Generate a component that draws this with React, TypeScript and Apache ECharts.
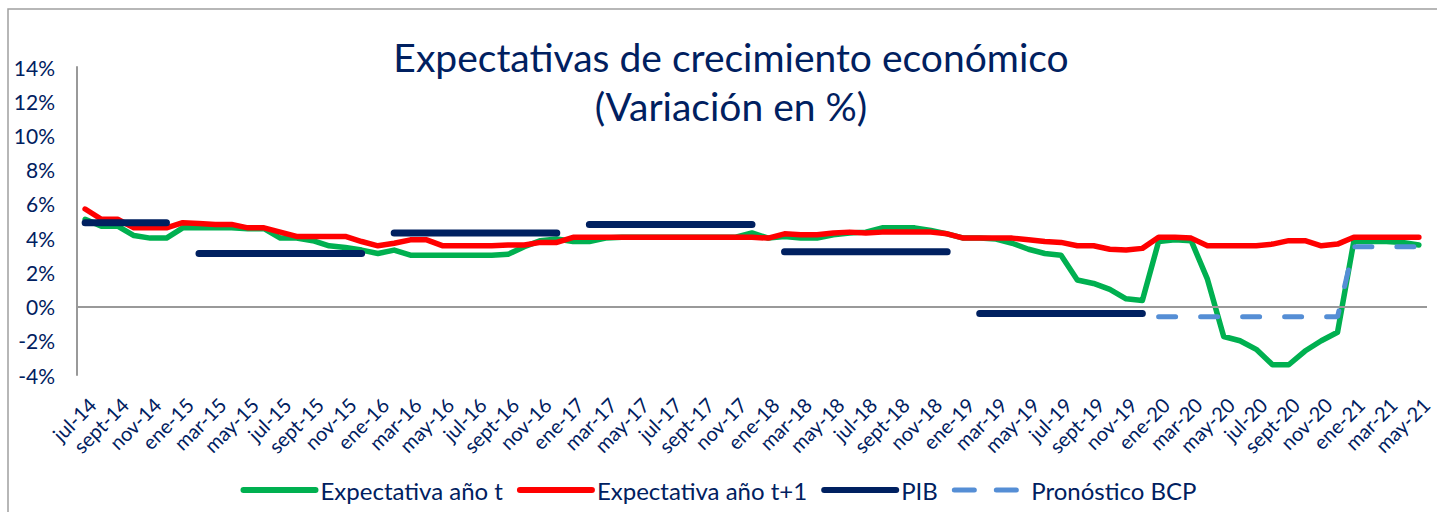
import React, { useEffect, useRef } from "react";
import * as echarts from "echarts";

const categories = [
  "jul-14","ago-14","sept-14","oct-14","nov-14","dic-14",
  "ene-15","feb-15","mar-15","abr-15","may-15","jun-15","jul-15","ago-15","sept-15","oct-15","nov-15","dic-15",
  "ene-16","feb-16","mar-16","abr-16","may-16","jun-16","jul-16","ago-16","sept-16","oct-16","nov-16","dic-16",
  "ene-17","feb-17","mar-17","abr-17","may-17","jun-17","jul-17","ago-17","sept-17","oct-17","nov-17","dic-17",
  "ene-18","feb-18","mar-18","abr-18","may-18","jun-18","jul-18","ago-18","sept-18","oct-18","nov-18","dic-18",
  "ene-19","feb-19","mar-19","abr-19","may-19","jun-19","jul-19","ago-19","sept-19","oct-19","nov-19","dic-19",
  "ene-20","feb-20","mar-20","abr-20","may-20","jun-20","jul-20","ago-20","sept-20","oct-20","nov-20","dic-20",
  "ene-21","feb-21","mar-21","abr-21","may-21",
];

const expectativaT = [
  5.1, 4.7, 4.7, 4.15, 4.0, 4.0,
  4.6, 4.6, 4.6, 4.6, 4.55, 4.55, 4.0, 4.0, 3.85, 3.55, 3.45, 3.3,
  3.1, 3.3, 3.0, 3.0, 3.0, 3.0, 3.0, 3.0, 3.05, 3.5, 3.85, 3.95,
  3.8, 3.8, 4.0, 4.05, 4.05, 4.05, 4.05, 4.05, 4.05, 4.05, 4.05, 4.3,
  4.0, 4.1, 4.0, 4.0, 4.2, 4.3, 4.35, 4.6, 4.6, 4.6, 4.45, 4.25,
  4.0, 4.0, 3.95, 3.7, 3.35, 3.1, 3.0, 1.55, 1.35, 1.0, 0.45, 0.35,
  3.8, 3.9, 3.85, 1.6, -1.75, -2.0, -2.5, -3.4, -3.4, -2.6, -2.0, -1.5,
  3.8, 3.8, 3.8, 3.75, 3.6,
];

const expectativaT1 = [
  5.7, 5.1, 5.1, 4.6, 4.6, 4.6,
  4.9, 4.85, 4.8, 4.8, 4.6, 4.6, 4.35, 4.1, 4.1, 4.1, 4.1, 3.8,
  3.55, 3.7, 3.9, 3.9, 3.55, 3.55, 3.55, 3.55, 3.6, 3.6, 3.75, 3.75,
  4.05, 4.05, 4.05, 4.05, 4.05, 4.05, 4.05, 4.05, 4.05, 4.05, 4.05, 4.05,
  4.0, 4.25, 4.2, 4.2, 4.3, 4.35, 4.3, 4.35, 4.35, 4.35, 4.35, 4.25,
  4.0, 4.0, 4.0, 4.0, 3.9, 3.8, 3.75, 3.55, 3.55, 3.35, 3.3, 3.4,
  4.05, 4.05, 4.0, 3.55, 3.55, 3.55, 3.55, 3.65, 3.85, 3.85, 3.55, 3.65,
  4.05, 4.05, 4.05, 4.05, 4.05,
];

// PIB (annual growth) drawn as horizontal segments
const pibValues = [4.9, 3.1, 4.3, 4.8, 3.2, -0.4];
const pibStart = ["jul-14", "feb-15", "feb-16", "feb-17", "feb-18", "feb-19"];
const pibEnd = ["dic-14", "dic-15", "dic-16", "dic-17", "dic-18", "dic-19"];

// Pronóstico BCP
const pronosticoValues = [-0.6, 3.5];
const pronosticoStart = ["ene-20", "ene-21"];
const pronosticoEnd = ["dic-20", "may-21"];

const yMin = -4;
const yMax = 14;
const yInterval = 2;

function buildSegments(values: number[], starts: string[], ends: string[]) {
  const out: (number | null)[] = categories.map(() => null);
  values.forEach((v, k) => {
    const a = categories.indexOf(starts[k]);
    const b = categories.indexOf(ends[k]);
    for (let i = a; i <= b; i++) out[i] = v;
  });
  return out;
}

const NAVY = "#002060";
const FONT = "Lato";

export default function App() {
  const ref = useRef<HTMLDivElement>(null);
  useEffect(() => {
    document.body.style.margin = "0";
    if (!ref.current) return;
    const chart = echarts.init(ref.current, undefined, { renderer: "svg" });
    const pib = buildSegments(pibValues, pibStart, pibEnd);
    const pronostico = buildSegments(pronosticoValues, pronosticoStart, pronosticoEnd);
    chart.setOption({
      animation: false,
      backgroundColor: "#ffffff",
      title: {
        text: "Expectativas de crecimiento económico\n(Variación en %)",
        left: 731,
        textAlign: "center",
        top: 32,
        padding: 0,
        textStyle: {
          fontFamily: FONT,
          fontSize: 39,
          lineHeight: 49,
          fontWeight: "normal",
          color: NAVY,
        },
      },
      graphic: [
        {
          type: "rect",
          silent: true,
          shape: { x: 8, y: 9, width: 1460, height: 540 },
          style: { fill: "none", stroke: "#a0a0a0", lineWidth: 1.5 },
        },
      ],
      legend: {
        left: "center",
        top: 473,
        itemWidth: 72,
        itemHeight: 14,
        itemGap: 14,
        textStyle: { fontFamily: FONT, fontSize: 24, color: NAVY },
        lineStyle: { width: 6 },
        itemStyle: { color: "rgba(0,0,0,0)", borderColor: "rgba(0,0,0,0)", borderWidth: 0, opacity: 0 },
        data: [
          { name: "Expectativa año t" },
          { name: "Expectativa año t+1" },
          { name: "PIB" },
          { name: "Pronóstico BCP", lineStyle: { width: 5, type: [20, 22], cap: "round" } },
        ],
      },
      grid: { left: 77, right: 10, top: 67, bottom: 137 },
      xAxis: {
        type: "category",
        data: categories,
        boundaryGap: true,
        axisLine: { show: false, onZero: false },
        axisTick: { show: false },
        axisLabel: {
          interval: 1,
          rotate: 45,
          margin: 19,
          verticalAlign: "top",
          fontFamily: FONT,
          fontSize: 20,
          color: NAVY,
        },
        splitLine: { show: false },
      },
      yAxis: {
        type: "value",
        min: yMin,
        max: yMax,
        interval: yInterval,
        axisLine: { show: true, lineStyle: { color: "#999999", width: 2 } },
        axisTick: { show: false },
        splitLine: { show: false },
        axisLabel: {
          margin: 22,
          fontFamily: FONT,
          fontSize: 21,
          color: NAVY,
          formatter: (v: number) => `${v}%`,
        },
      },
      series: [
        {
          name: "Expectativa año t",
          type: "line",
          data: expectativaT,
          symbol: "none",
          z: 2,
          lineStyle: { color: "#00B050", width: 5.5, cap: "round", join: "round" },
          itemStyle: { color: "#00B050" },
          markLine: {
            silent: true,
            symbol: ["none", "none"],
            label: { show: false },
            lineStyle: { color: "#999999", width: 2, type: "solid" },
            data: [{ yAxis: 0 }],
          },
        },
        {
          name: "Expectativa año t+1",
          type: "line",
          data: expectativaT1,
          symbol: "none",
          z: 3,
          lineStyle: { color: "#FF0000", width: 5.5, cap: "round", join: "round" },
          itemStyle: { color: "#FF0000" },
        },
        {
          name: "PIB",
          type: "line",
          data: pib,
          symbol: "none",
          connectNulls: false,
          z: 4,
          lineStyle: { color: NAVY, width: 7, cap: "round" },
          itemStyle: { color: NAVY },
        },
        {
          name: "Pronóstico BCP",
          type: "line",
          data: pronostico,
          symbol: "none",
          connectNulls: false,
          z: 5,
          lineStyle: { color: "#558ED5", width: 5, type: [17, 25], cap: "round" },
          itemStyle: { color: "#558ED5" },
        },
      ],
    });
    return () => chart.dispose();
  }, []);
  return <div ref={ref} style={{ width: 1437, height: 512 }} />;
}
